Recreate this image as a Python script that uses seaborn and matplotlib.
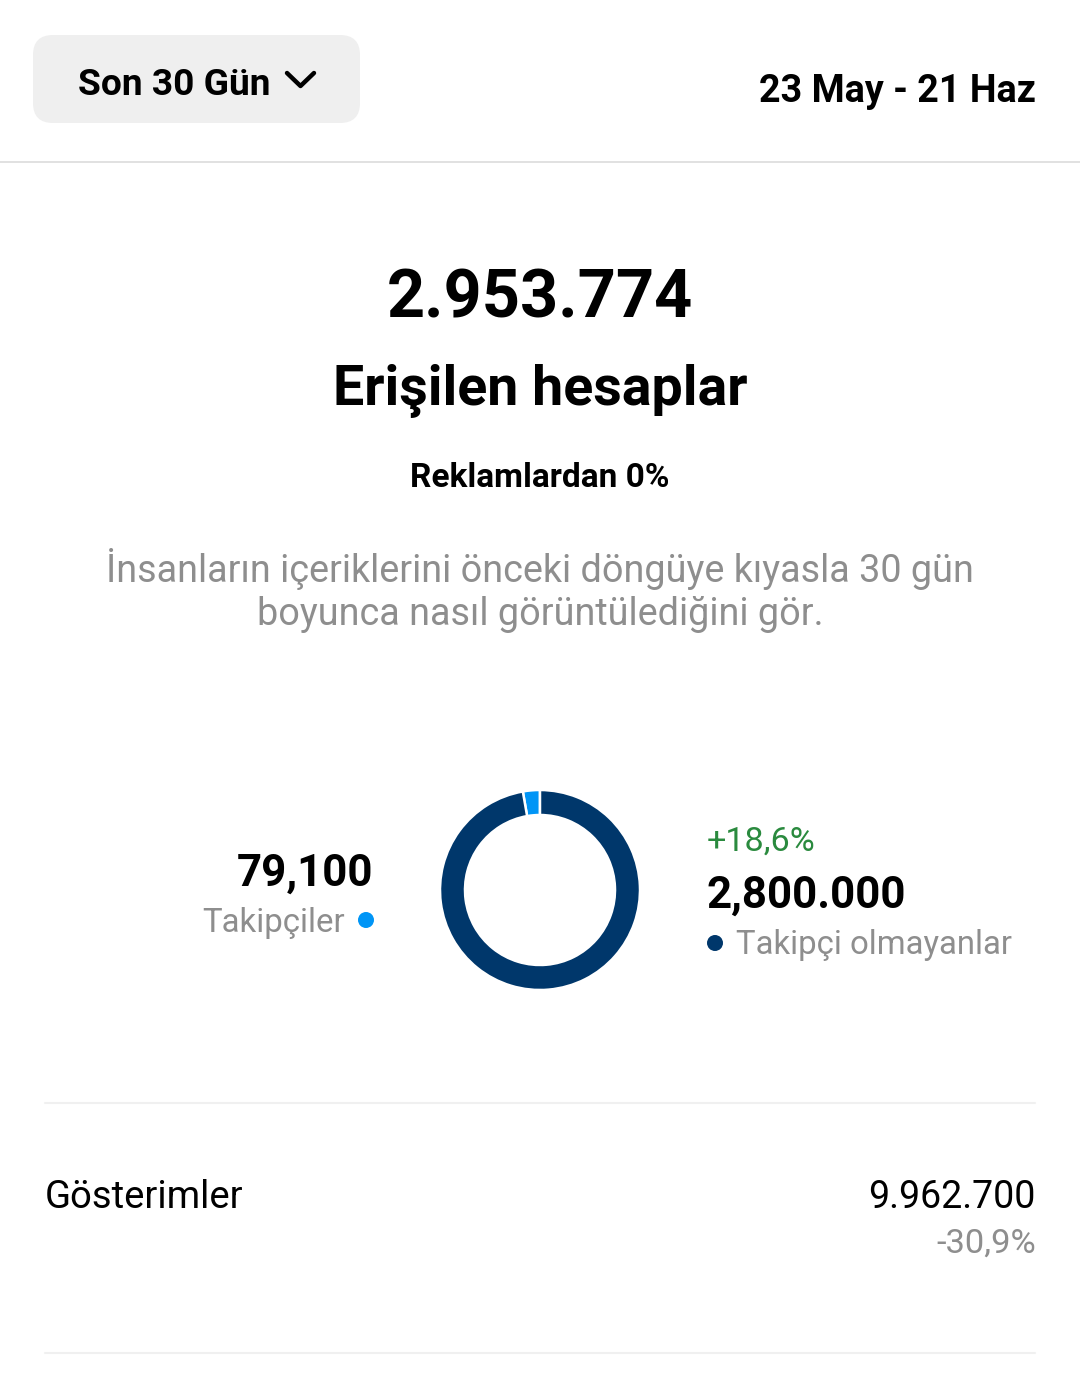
import matplotlib
matplotlib.use("Agg")
import matplotlib.pyplot as plt
from matplotlib.patches import FancyBboxPatch, Circle
import seaborn as sns

# data
segments = ["Takipçiler", "Takipçi olmayanlar"]
reach_values = [79100, 2800000]
reach_labels = ["79,100", "2,800.000"]
segment_colors = ["#0095f6", "#00376b"]
nonfollower_change = "+18,6%"

total_reach = "2.953.774"
period_label = "Son 30 Gün"
date_range = "23 May - 21 Haz"
impressions_value = "9.962.700"
impressions_change = "-30,9%"

sns.set_theme(style="white")
plt.rcParams["font.family"] = ["Roboto", "DejaVu Sans"]
plt.rcParams["text.color"] = "#000000"

W, H = 1080, 1387
fig = plt.figure(figsize=(W / 100, H / 100), dpi=100)
fig.patch.set_facecolor("white")

# page axes in pixel coordinates
ax = fig.add_axes([0, 0, 1, 1])
ax.set_xlim(0, W)
ax.set_ylim(H, 0)
ax.axis("off")

gray = "#8e8e8e"
black = "#000000"

# top bar
ax.add_patch(FancyBboxPatch((33, 35), 327, 88, boxstyle="round,pad=0,rounding_size=20",
                            fc="#efefef", ec="none"))
ax.text(78, 95, period_label, fontsize=26.7, fontweight="bold", color=black, va="baseline")
ax.plot([287, 300.5, 314], [73, 86, 73], color=black, lw=3.2, solid_capstyle="round",
        solid_joinstyle="round")
ax.text(1036, 102, date_range, fontsize=27.2, fontweight="bold", color=black,
        va="baseline", ha="right")
ax.plot([0, W], [162, 162], color="#dbdbdb", lw=1.2)

# headline
ax.text(540, 317, total_reach, fontsize=48, fontweight="bold", color=black,
        ha="center", va="baseline")
ax.text(540, 405, "Erişilen hesaplar", fontsize=40, fontweight="bold", color=black,
        ha="center", va="baseline")
ax.text(540, 487, "Reklamlardan 0%", fontsize=24, fontweight="bold", color=black,
        ha="center", va="baseline")
ax.text(540, 582, "İnsanların içeriklerini önceki döngüye kıyasla 30 gün", fontsize=27.2,
        color=gray, ha="center", va="baseline")
ax.text(540, 625, "boyunca nasıl görüntülediğini gör.", fontsize=27.2,
        color=gray, ha="center", va="baseline")

# left legend
ax.text(373, 886, reach_labels[0], fontsize=31.6, fontweight="bold", color=black,
        ha="right", va="baseline")
ax.text(345, 932, segments[0], fontsize=23.8, color=gray, ha="right", va="baseline")
ax.add_patch(Circle((366, 920), 8, fc=segment_colors[0], ec="none"))

# right legend
ax.text(707, 851, nonfollower_change, fontsize=24.6, color="#2a8a3e", ha="left", va="baseline")
ax.text(707, 908, reach_labels[1], fontsize=31.6, fontweight="bold", color=black,
        ha="left", va="baseline")
ax.add_patch(Circle((715, 943), 8, fc=segment_colors[1], ec="none"))
ax.text(736, 954, segments[1], fontsize=23.7, color=gray, ha="left", va="baseline")

# separators and impressions row
ax.plot([45, 1035], [1103, 1103], color="#f0f0f0", lw=1.5)
ax.text(45, 1208, "Gösterimler", fontsize=27.5, color=black, ha="left", va="baseline")
ax.text(1036, 1208, impressions_value, fontsize=27, color=black, ha="right", va="baseline")
ax.text(1036, 1253, impressions_change, fontsize=24.8, color=gray, ha="right", va="baseline")
ax.plot([45, 1035], [1353, 1353], color="#f0f0f0", lw=1.5)

# donut
cx, cy, r = 540, 890, 101
dax = fig.add_axes([(cx - r) / W, (H - cy - r) / H, 2 * r / W, 2 * r / H])
dax.pie(reach_values, colors=segment_colors, startangle=90, counterclock=True,
        radius=1, wedgeprops=dict(width=0.25, edgecolor="white", linewidth=1.8))
dax.set_xlim(-1.01, 1.01)
dax.set_ylim(-1.01, 1.01)
dax.set_aspect("equal")
dax.axis("off")

fig.savefig("out.png", dpi=100, facecolor="white")
